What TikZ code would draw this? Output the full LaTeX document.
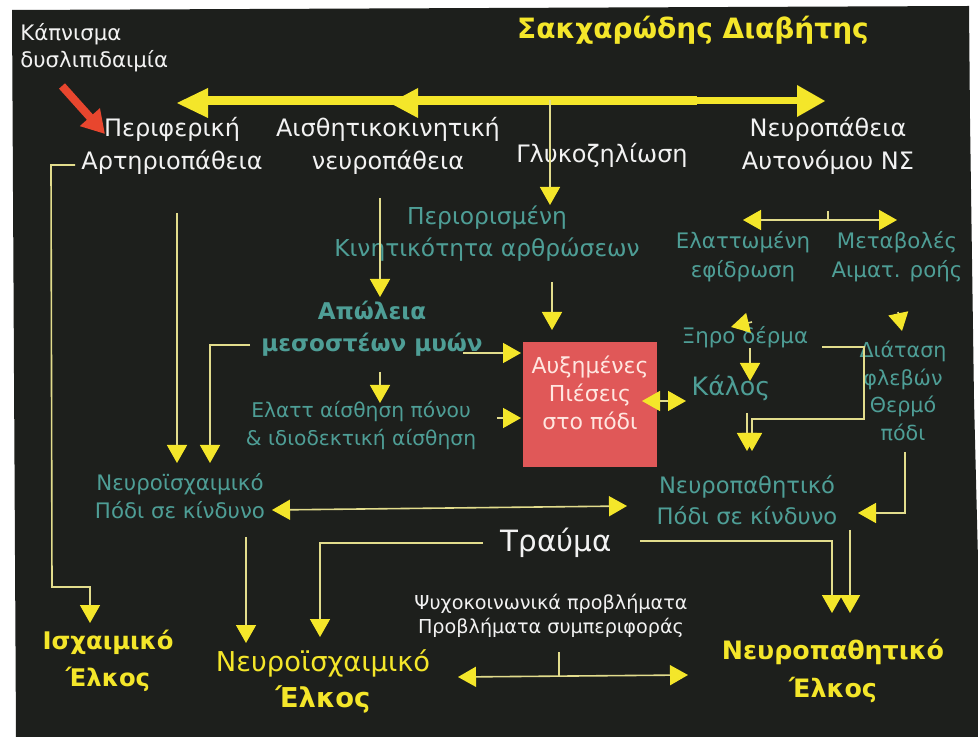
\documentclass[tikz,border=0pt]{standalone}
\usepackage{fontspec}
\setmainfont{DejaVu Sans}
\usetikzlibrary{arrows.meta}
\definecolor{bg}{HTML}{1D1F1C}
\definecolor{ayel}{HTML}{F4E62A}
\definecolor{lncol}{HTML}{E2DC8C}
\definecolor{tealc}{HTML}{4E9E96}
\definecolor{wtext}{HTML}{F2F2F2}
\definecolor{boxred}{HTML}{E05858}
\definecolor{boxtxt}{HTML}{FFE6E0}
\definecolor{redarr}{HTML}{E8462E}
\newcommand\fz[2]{\fontsize{#1}{#2}\selectfont}
\tikzset{
  txt/.style={inner sep=0pt, align=center},
  ln/.style={draw=lncol, line width=1.2pt},
  arr/.style={ln, -{Triangle[length=13.5pt,width=15pt,color=ayel]}},
  darr/.style={ln, {Triangle[length=13.5pt,width=15pt,color=ayel]}-{Triangle[length=13.5pt,width=15pt,color=ayel]}},
}
\begin{document}
\begin{tikzpicture}[x=0.75pt,y=-0.75pt]
\useasboundingbox (0,0) rectangle (978,737);
\fill[white] (0,0) rectangle (978,737);
\fill[bg] (12,10) -- (969,6) -- (970,120) -- (974,400) -- (978,560) -- (978,737) -- (16,737) -- cycle;

% ---------- nodes ----------
\node[txt, wtext, anchor=west, align=left, font=\fz{16}{20.25}] (smoke) at (20,48) {Κάπνισμα\\δυσλιπιδαιμία};
\node[txt, ayel, font=\bfseries\fz{21}{24}] (dm) at (693,30) {Σακχαρώδης Διαβήτης};
\node[txt, wtext, font=\fz{18}{24.75}] (pad) at (172,146) {Περιφερική\\Αρτηριοπάθεια};
\node[txt, wtext, font=\fz{18}{24.75}] (sens) at (388,146) {Αισθητικοκινητική\\νευροπάθεια};
\node[txt, wtext, font=\fz{18}{24.75}] (auto) at (828,146) {Νευροπάθεια\\Αυτονόμου ΝΣ};
\node[txt, tealc, font=\fz{17.5}{24}] (joint) at (487,234) {Περιορισμένη\\Κινητικότητα αρθρώσεων};
\node[txt, tealc, font=\bfseries\fz{17.3}{24}] (muscle) at (372,329) {Απώλεια\\μεσοστέων μυών};
\node[fill=boxred, minimum width=100.5pt, minimum height=93.75pt, inner sep=0pt] (press) at (590,404.5) {};
\node[txt, boxtxt, font=\fz{16.5}{21}] (presstxt) at (590,393) {Αυξημένες\\Πιέσεις\\στο πόδι};
\node[txt, tealc, font=\fz{15.2}{21}] (pain) at (361,426) {Ελαττ αίσθηση πόνου\\\& ιδιοδεκτική αίσθηση};
\node[txt, tealc, font=\fz{16}{21.75}] (sweat) at (743,257) {Ελαττωμένη\\εφίδρωση};
\node[txt, tealc, font=\fz{16}{21.75}] (flow) at (897,257) {Μεταβολές\\Αιματ. ροής};
\node[txt, tealc, font=\fz{16}{20}] (dry) at (745,337) {Ξηρο δέρμα};
\node[txt, tealc, font=\fz{19}{22}] (callus) at (731,388) {Κάλος};
\node[txt, tealc, font=\fz{15.5}{20.75}] (veins) at (903,391) {Διάταση\\φλεβών\\Θερμό\\πόδι};
\node[txt, tealc, font=\fz{17}{23.25}] (npfoot) at (747,500) {Νευροπαθητικό\\Πόδι σε κίνδυνο};
\node[txt, tealc, font=\fz{16}{21}] (nifoot) at (180,496) {Νευροϊσχαιμικό\\Πόδι σε κίνδυνο};
\node[txt, wtext, font=\fz{22}{26}] (trauma) at (556,543) {Τραύμα};
\node[txt, wtext, font=\fz{14.4}{18}] (psy) at (551,616) {Ψυχοκοινωνικά προβλήματα\\Προβλήματα συμπεριφοράς};
\node[txt, ayel, font=\bfseries\fz{19}{28.5}] (npulc) at (833,671) {Νευροπαθητικό\\Έλκος};
\node[txt, ayel, font=\fz{20.5}{27}] (niulc) at (323,681) {Νευροϊσχαιμικό\\\textbf{Έλκος}};
\node[txt, ayel, font=\bfseries\fz{18.2}{27.75}] (iulc) at (108,661) {Ισχαιμικό\\Έλκος};

% ---------- big yellow arrow ----------
\fill[ayel] (205,96) rectangle (697,105);
\fill[ayel] (695,97) rectangle (799,104);
\fill[ayel] (177,103) -- (208,88) -- (208,118) -- cycle;
\fill[ayel] (390,103) -- (418,88) -- (418,118) -- cycle;
\fill[ayel] (825,101) -- (797,85) -- (797,117) -- cycle;
\node[txt, wtext, font=\fz{18}{24.75}] (gly) at (602,155) {Γλυκοζηλίωση};
\draw[arr] (550,100) -- (550,205);

% ---------- red arrow ----------
\draw[redarr, line width=6pt, -{Triangle[length=17pt,width=19pt]}] (62,86) -- (105,134);

% ---------- connectors ----------
\draw[arr] (380,198) -- (380,297);
\draw[arr] (552,282) -- (552,330);
\draw[arr] (463,353) -- (521,353);
\draw[arr] (380,372) -- (380,403);
\draw[arr] (497,418) -- (521,418);
\draw[darr] (642,401) -- (686,401);
\draw[darr] (743,220) -- (897,220);
\draw[ln] (828,211) -- (828,220);
\draw[arr] (752,322) -- (731,327);
\draw[arr] (750,348) -- (750,381);
\draw[arr] (898,312) -- (902,331);
\draw[arr] (822,347) -- (864,347) -- (864,419) -- (752,419) -- (752,451);
\draw[arr] (747,413) -- (747,451);
\draw[arr] (905,452) -- (905,513) -- (858,513);
\draw[darr] (272,510) -- (627,506);
\draw[arr] (850,530) -- (850,613);
\draw[arr] (640,541) -- (832,541) -- (832,613);
\draw[arr] (483,543) -- (320,543) -- (320,637);
\draw[arr] (246,537) -- (246,643);
\draw[darr] (458,677) -- (688,675);
\draw[ln] (559,652) -- (559,676);
\draw[arr] (177,213) -- (177,463);
\draw[arr] (250,345) -- (210,345) -- (210,463);
\draw[arr] (75,165) -- (51,165) -- (52,587) -- (90,587) -- (90,623);
\end{tikzpicture}
\end{document}
